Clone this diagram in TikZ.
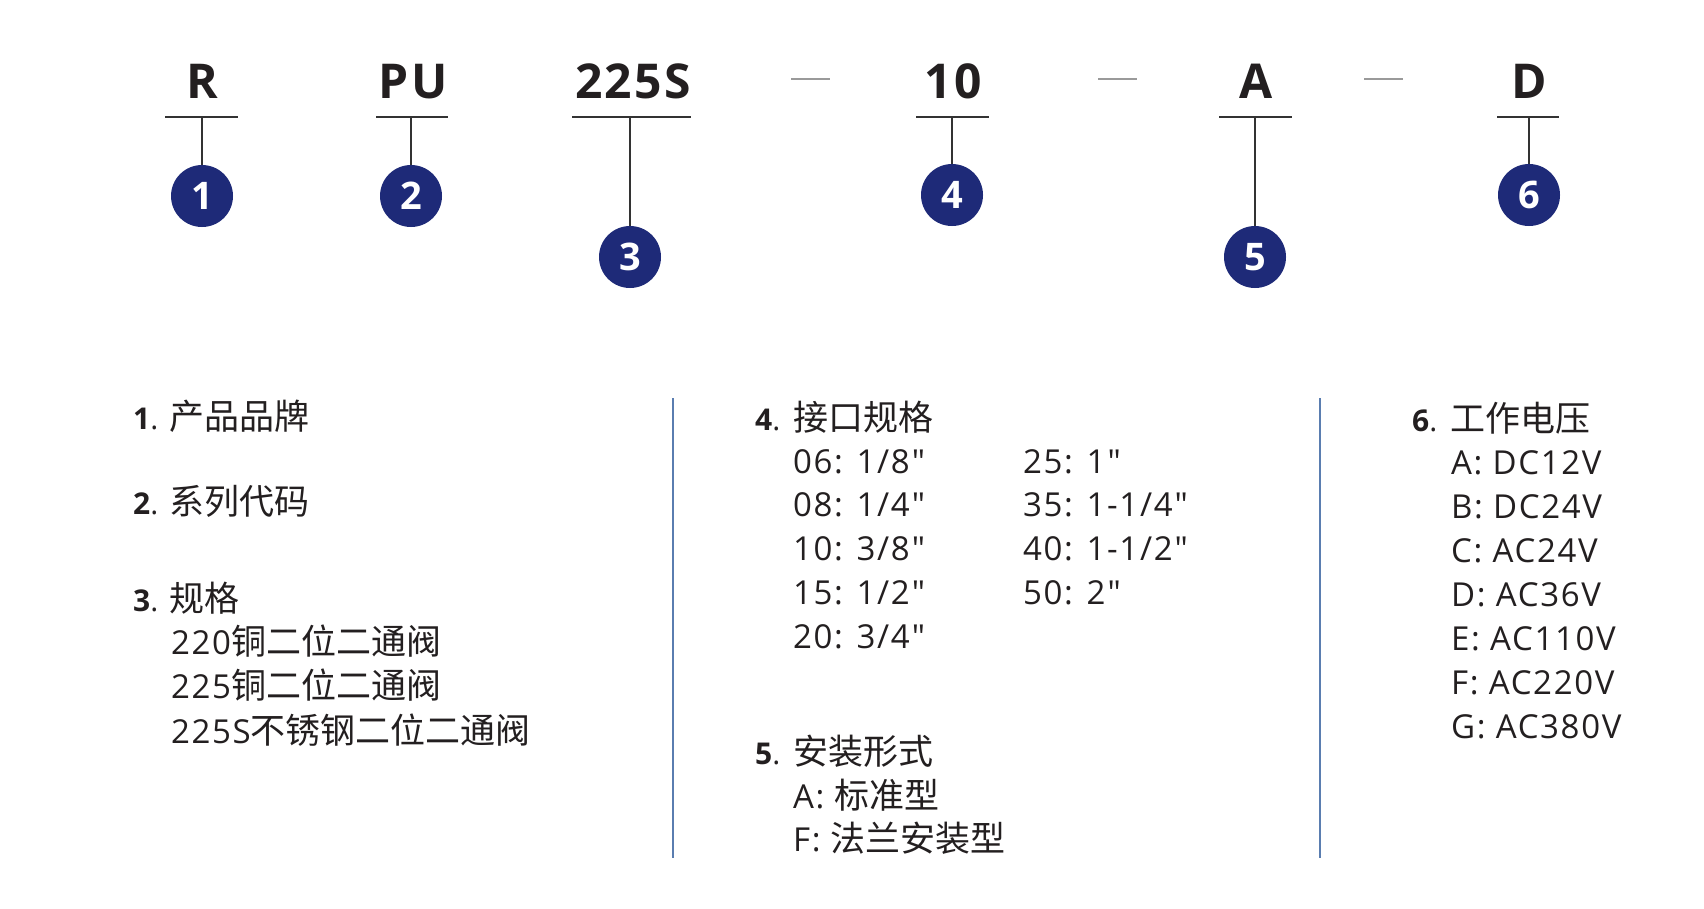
\documentclass[tikz,border=0pt]{standalone}
\usepackage{fontspec}
\setmainfont{Open Sans}[LetterSpace=5, Ligatures=TeXOff]
\newfontfamily\cjk{Noto Sans CJK SC}
\definecolor{navy}{HTML}{1E2A78}
\definecolor{txt}{HTML}{231F20}
\definecolor{divc}{HTML}{5A7DB0}
\definecolor{dashc}{HTML}{9A9A9A}
\definecolor{linec}{HTML}{333333}
\tikzset{
  code/.style={anchor=base, inner sep=0pt, text=txt, font=\bfseries\fontsize{48}{48}\selectfont},
  num/.style={circle, fill=navy, minimum size=62pt, inner sep=0pt, text=white, font=\bfseries\fontsize{38}{38}\selectfont},
  uline/.style={draw=linec, line width=1.5pt},
  sepdash/.style={draw=dashc, line width=2pt},
  divider/.style={draw=divc, line width=2pt},
  ttlnum/.style={anchor=base west, inner sep=0pt, text=txt, font=\fontsize{30}{30}\selectfont},
  ttl/.style={anchor=base west, inner sep=0pt, text=txt, font=\cjk\fontsize{35}{35}\selectfont},
  item/.style={anchor=base west, inner sep=0pt, text=txt, font=\fontsize{33}{33}\selectfont},
}
\newcommand{\zh}[1]{{\cjk\fontsize{35}{35}\selectfont #1}}
\newcommand{\qq}{\kern2pt"}
\begin{document}
\begin{tikzpicture}[x=1pt, y=-1pt]
\useasboundingbox[fill=white] (0,0) rectangle (1704,908);
% code letters
\node[code] (R) at (202,98) {R};
\node[code] (PU) at (413,98) {PU};
\node[code] (S225) at (633,98) {225S};
\node[code] (D10) at (953,98) {10};
\node[code] (A) at (1256,98) {A};
\node[code] (D) at (1529,98) {D};
% separators
\draw[sepdash] (791,79) -- (830,79);
\draw[sepdash] (1098,79) -- (1137,79);
\draw[sepdash] (1364,79) -- (1403,79);
% underlines
\draw[uline] (165,117) -- (238,117);
\draw[uline] (376,117) -- (448,117);
\draw[uline] (572,117) -- (691,117);
\draw[uline] (916,117) -- (989,117);
\draw[uline] (1219,117) -- (1292,117);
\draw[uline] (1497,117) -- (1559,117);
\coordinate (u1) at (202,117);
\coordinate (u2) at (411,117);
\coordinate (u3) at (630,117);
\coordinate (u4) at (952,117);
\coordinate (u5) at (1255,117);
\coordinate (u6) at (1529,117);
% circles
\node[num] (c1) at (202,196) {1};
\node[num] (c2) at (411,196) {2};
\node[num] (c3) at (630,257) {3};
\node[num] (c4) at (952,195) {4};
\node[num] (c5) at (1255,257) {5};
\node[num] (c6) at (1529,195) {6};
\foreach \k in {1,...,6} \draw[uline] (u\k) -- (c\k);
% dividers
\draw[divider] (673,398) -- (673,858);
\draw[divider] (1320,398) -- (1320,858);
% column 1
\node[ttlnum] (n1) at (133,429) {\textbf{1}.};
\node[ttl] (t1) at (169,429) {产品品牌};
\node[ttlnum] (n2) at (133,514) {\textbf{2}.};
\node[ttl] (t2) at (169,514) {系列代码};
\node[ttlnum] (n3) at (133,611) {\textbf{3}.};
\node[ttl] (t3) at (169,611) {规格};
\node[item] (s31) at (171,654) {220\zh{铜二位二通阀}};
\node[item] (s32) at (171,698) {225\zh{铜二位二通阀}};
\node[item] (s33) at (171,743) {225S\zh{不锈钢二位二通阀}};
% column 2
\node[ttlnum] (n4) at (755,430) {\textbf{4}.};
\node[ttl] (t4) at (793,430) {接口规格};
\foreach \t [count=\i] in {06: 1/8\qq,08: 1/4\qq,10: 3/8\qq,15: 1/2\qq,20: 3/4\qq}
  \node[item] (s4a\i) at (793,{473+43.75*(\i-1)}) {\t};
\foreach \t [count=\i] in {25: 1\qq,35: 1-1/4\qq,40: 1-1/2\qq,50: 2\qq}
  \node[item] (s4b\i) at (1023,{473+43.75*(\i-1)}) {\t};
\node[ttlnum] (n5) at (755,764) {\textbf{5}.};
\node[ttl] (t5) at (793,764) {安装形式};
\node[item] (s51) at (793,808) {A: \zh{标准型}};
\node[item] (s52) at (793,851) {F: \zh{法兰安装型}};
% column 3
\node[ttlnum] (n6) at (1412,431) {\textbf{6}.};
\node[ttl] (t6) at (1450,431) {工作电压};
\foreach \t [count=\i] in {A: DC12V,B: DC24V,C: AC24V,D: AC36V,E: AC110V,F: AC220V,G: AC380V}
  \node[item] (s6\i) at (1451,{474+44*(\i-1)}) {\t};
\end{tikzpicture}
\end{document}
